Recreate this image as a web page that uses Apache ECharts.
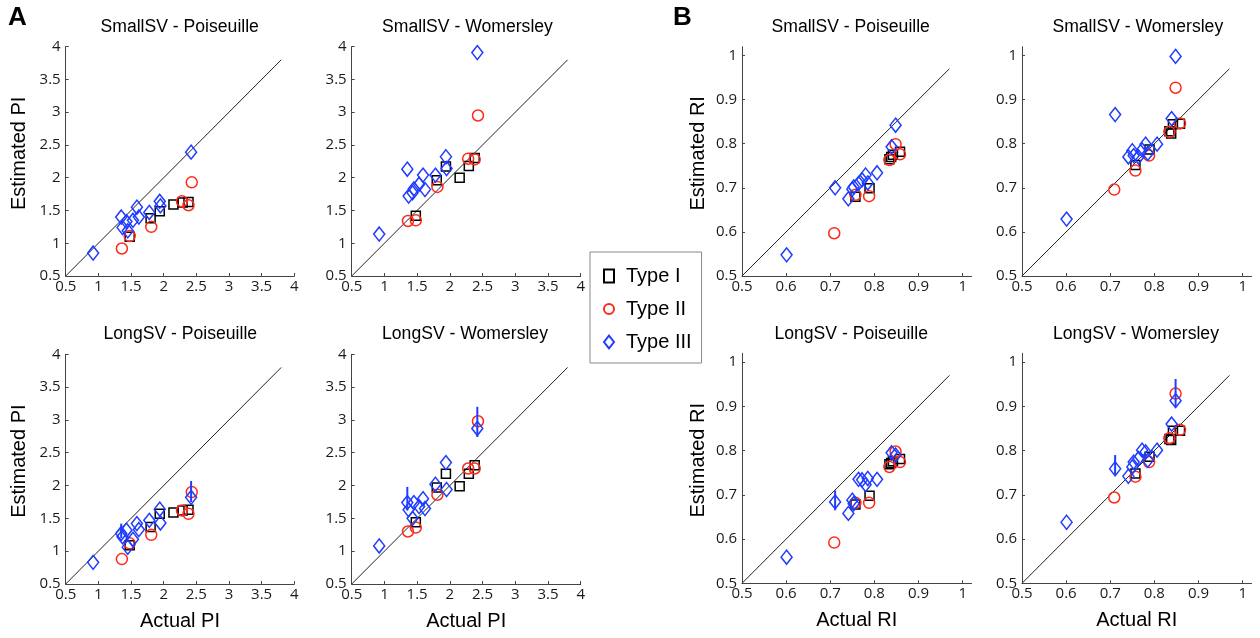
<!DOCTYPE html>
<html><head><meta charset="utf-8">
<script src="https://cdn.jsdelivr.net/npm/echarts@6/dist/echarts.min.js"></script>
<style>html,body{margin:0;padding:0;background:#fff}#c{width:1260px;height:638px}</style>
</head><body><div id="c"></div>
<script>
// ---------------- data ----------------
const TYPE_NAMES = ['Type I', 'Type II', 'Type III'];
const PANEL_TITLES = ['SmallSV - Poiseuille', 'SmallSV - Womersley', 'LongSV - Poiseuille', 'LongSV - Womersley'];
const PI_TICKS = [0.5, 1, 1.5, 2, 2.5, 3, 3.5, 4];
const RI_TICKS = [0.5, 0.6, 0.7, 0.8, 0.9, 1];
const PI_DIAG = [0.5, 3.8];
const RI_DIAG = [0.5, 0.97];

// Actual PI per type
const piActualI   = [1.48, 1.80, 1.94, 2.15, 2.29, 2.38];
const piActualII  = [1.36, 1.48, 1.81, 2.28, 2.38, 2.43];
const piActualIII = [0.92, 1.35, 1.37, 1.43, 1.45, 1.53, 1.59, 1.62, 1.78, 1.94, 1.95, 2.42];
// Actual RI per type
const riActualI   = [0.757, 0.789, 0.834, 0.838, 0.842, 0.858];
const riActualII  = [0.709, 0.757, 0.788, 0.834, 0.848, 0.858];
const riActualIII = [0.601, 0.711, 0.741, 0.750, 0.753, 0.764, 0.772, 0.780, 0.785, 0.806, 0.839, 0.848];

// Estimated PI
const piSmallPoisI   = [1.10, 1.38, 1.49, 1.59, 1.62, 1.63];
const piSmallPoisII  = [0.92, 1.11, 1.25, 1.64, 1.58, 1.93];
const piSmallPoisIII = [0.85, 1.40, 1.24, 1.33, 1.19, 1.35, 1.55, 1.40, 1.47, 1.64, 1.57, 2.39];
const piSmallWomI    = [1.42, 1.96, 2.17, 2.00, 2.18, 2.30];
const piSmallWomII   = [1.34, 1.35, 1.86, 2.29, 2.28, 2.95];
const piSmallWomIII  = [1.14, 2.13, 1.72, 1.77, 1.83, 1.90, 2.04, 1.82, 2.04, 2.32, 2.14, 3.91];
const piLongPoisI    = [1.09, 1.37, 1.57, 1.59, 1.62, 1.63];
const piLongPoisII   = [0.88, 1.12, 1.25, 1.62, 1.57, 1.90];
const piLongPoisIII  = [0.83, 1.27, 1.22, 1.32, 1.06, 1.18, 1.42, 1.33, 1.47, 1.64, 1.43, 1.82];
const piLongWomI     = [1.44, 1.97, 2.18, 1.99, 2.18, 2.31];
const piLongWomII    = [1.30, 1.36, 1.86, 2.26, 2.26, 2.98];
const piLongWomIII   = [1.08, 1.74, 1.63, 1.50, 1.74, 1.68, 1.80, 1.65, 2.02, 2.35, 1.94, 2.87];
// Estimated RI
const riSmallPoisI   = [0.680, 0.699, 0.765, 0.770, 0.775, 0.782];
const riSmallPoisII  = [0.597, 0.684, 0.681, 0.763, 0.799, 0.776];
const riSmallPoisIII = [0.548, 0.700, 0.675, 0.697, 0.702, 0.710, 0.718, 0.729, 0.711, 0.734, 0.793, 0.842];
const riSmallWomI    = [0.752, 0.787, 0.828, 0.823, 0.844, 0.845];
const riSmallWomII   = [0.696, 0.739, 0.773, 0.827, 0.927, 0.846];
const riSmallWomIII  = [0.629, 0.866, 0.770, 0.784, 0.773, 0.770, 0.786, 0.799, 0.778, 0.799, 0.857, 0.998];
const riLongPoisI    = [0.678, 0.698, 0.769, 0.772, 0.776, 0.781];
const riLongPoisII   = [0.592, 0.682, 0.682, 0.763, 0.798, 0.774];
const riLongPoisIII  = [0.559, 0.684, 0.658, 0.688, 0.680, 0.735, 0.734, 0.723, 0.737, 0.735, 0.795, 0.790];
const riLongWomI     = [0.748, 0.786, 0.826, 0.824, 0.845, 0.845];
const riLongWomII    = [0.694, 0.741, 0.774, 0.828, 0.929, 0.847];
const riLongWomIII   = [0.638, 0.759, 0.742, 0.763, 0.774, 0.782, 0.801, 0.797, 0.778, 0.801, 0.860, 0.913];
// Error bars on Type III points: [point index, low, high]
const piLongPoisErrIII = [[1, 1.20, 1.42], [11, 1.75, 2.07]];
const piLongWomErrIII  = [[1, 1.62, 1.98], [11, 2.74, 3.20]];
const riLongPoisErrIII = [[1, 0.665, 0.710]];
const riLongWomErrIII  = [[1, 0.745, 0.790], [11, 0.898, 0.962]];

// ---------------- layout ----------------
const GRIDS = [
  {left: 65.7, top: 46.7, width: 228.6, height: 229.3},
  {left: 351.7, top: 46.7, width: 229, height: 229.3},
  {left: 65.7, top: 354.3, width: 228.6, height: 229.7},
  {left: 351.7, top: 354.3, width: 229, height: 229.7},
  {left: 742, top: 46.7, width: 229.5, height: 229.3},
  {left: 1022, top: 46.7, width: 229.5, height: 229.3},
  {left: 742, top: 353.3, width: 229.5, height: 230},
  {left: 1022, top: 353.3, width: 229.5, height: 230}
];
const TITLE_POS = [[179.7, 26.7], [467.5, 26.7], [180.3, 334], [465, 334],
                   [850.7, 26.7], [1137.8, 26.7], [851.2, 334], [1136, 334]];

const PANELS = [
  {m: 'PI', t: 0, y: [piSmallPoisI, piSmallPoisII, piSmallPoisIII], err: []},
  {m: 'PI', t: 1, y: [piSmallWomI, piSmallWomII, piSmallWomIII], err: []},
  {m: 'PI', t: 2, y: [piLongPoisI, piLongPoisII, piLongPoisIII], err: piLongPoisErrIII},
  {m: 'PI', t: 3, y: [piLongWomI, piLongWomII, piLongWomIII], err: piLongWomErrIII},
  {m: 'RI', t: 0, y: [riSmallPoisI, riSmallPoisII, riSmallPoisIII], err: []},
  {m: 'RI', t: 1, y: [riSmallWomI, riSmallWomII, riSmallWomIII], err: []},
  {m: 'RI', t: 2, y: [riLongPoisI, riLongPoisII, riLongPoisIII], err: riLongPoisErrIII},
  {m: 'RI', t: 3, y: [riLongWomI, riLongWomII, riLongWomIII], err: riLongWomErrIII}
];

const FONT = 'Liberation Sans, Arial, sans-serif';
const TICKFONT = 'Open Sans, Liberation Sans, sans-serif';
const COLORS = ['#000000', '#ff2a1a', '#1f3cff'];
const SYMBOLS = ['rect', 'circle', 'path://M0,-7L5.5,0L0,7L-5.5,0Z'];
const SIZES = [[9, 9], [11, 11], [11, 14]];

const fmt = v => String(Math.round(v * 100) / 100);

const option = {
  animation: false,
  textStyle: {fontFamily: FONT},
  grid: GRIDS.map(g => Object.assign({containLabel: false, outerBoundsMode: 'none'}, g)),
  title: PANELS.map((p, i) => ({
    text: PANEL_TITLES[p.t], left: TITLE_POS[i][0], top: TITLE_POS[i][1],
    textAlign: 'center', textVerticalAlign: 'middle', padding: 0,
    textStyle: {fontFamily: FONT, fontSize: 17.6, fontWeight: 'normal', color: '#000'}
  })),
  legend: {
    left: 590, top: 252, orient: 'vertical',
    padding: [14, 10, 11, 13], itemGap: 13,
    itemWidth: 10, itemHeight: 13,
    borderColor: '#888', borderWidth: 1, backgroundColor: '#fff',
    textStyle: {fontFamily: FONT, fontSize: 20, color: '#000', padding: [0, 0, 0, 7]},
    data: TYPE_NAMES.map((n, k) => ({name: n, icon: SYMBOLS[k]})),
    selectedMode: false
  },
  xAxis: PANELS.map((p, i) => {
    const isPI = p.m === 'PI';
    const bottom = p.t >= 2;
    return {
      type: 'value', gridIndex: i, min: 0.5, max: isPI ? 4 : 1.02,
      interval: isPI ? 0.5 : 0.1,
      name: bottom ? (isPI ? 'Actual PI' : 'Actual RI') : '',
      nameLocation: 'middle', nameGap: 27,
      nameTextStyle: {fontFamily: FONT, fontSize: 20, color: '#000'},
      axisLine: {show: true, onZero: false, lineStyle: {color: '#444', width: 1}},
      axisTick: {show: true, inside: true, length: 3, lineStyle: {color: '#444'},
                 customValues: isPI ? PI_TICKS : RI_TICKS},
      axisLabel: {show: true, margin: 3, color: '#1a1a1a', fontSize: 15, fontFamily: TICKFONT,
                  customValues: isPI ? PI_TICKS : RI_TICKS, formatter: fmt},
      splitLine: {show: false}
    };
  }),
  yAxis: PANELS.map((p, i) => {
    const isPI = p.m === 'PI';
    const leftCol = (i % 2) === 0;
    return {
      type: 'value', gridIndex: i, min: 0.5, max: isPI ? 4 : 1.02,
      interval: isPI ? 0.5 : 0.1,
      name: leftCol ? (isPI ? 'Estimated PI' : 'Estimated RI') : '',
      nameLocation: 'middle', nameGap: isPI ? 36 : 34,
      nameTextStyle: {fontFamily: FONT, fontSize: 20, color: '#000', padding: [0, 0, 0, 16]},
      axisLine: {show: true, onZero: false, lineStyle: {color: '#444', width: 1}},
      axisTick: {show: true, inside: true, length: 3, lineStyle: {color: '#444'},
                 customValues: isPI ? PI_TICKS : RI_TICKS},
      axisLabel: {show: true, margin: 5, color: '#1a1a1a', fontSize: 15, fontFamily: TICKFONT,
                  customValues: isPI ? PI_TICKS : RI_TICKS, formatter: fmt},
      splitLine: {show: false}
    };
  }),
  graphic: [
    {type: 'text', left: 8, top: 5, style: {text: 'A', font: 'bold 26px ' + FONT, fill: '#000'}},
    {type: 'text', left: 673, top: 5, style: {text: 'B', font: 'bold 26px ' + FONT, fill: '#000'}}
  ],
  series: []
};

PANELS.forEach((p, i) => {
  const isPI = p.m === 'PI';
  const diag = isPI ? PI_DIAG : RI_DIAG;
  const xs = isPI ? [piActualI, piActualII, piActualIII] : [riActualI, riActualII, riActualIII];
  option.series.push({
    type: 'line', xAxisIndex: i, yAxisIndex: i, silent: true, symbol: 'none',
    data: [[diag[0], diag[0]], [diag[1], diag[1]]],
    lineStyle: {color: '#222', width: 1}, z: 1
  });
  for (let k = 0; k < 3; k++) {
    option.series.push({
      type: 'scatter', name: TYPE_NAMES[k], xAxisIndex: i, yAxisIndex: i,
      symbol: SYMBOLS[k], symbolSize: SIZES[k],
      itemStyle: {color: 'rgba(0,0,0,0)', borderColor: COLORS[k], borderWidth: 1.5, opacity: 1},
      emphasis: {disabled: true},
      data: xs[k].map((x, j) => [x, p.y[k][j]]), z: 2 + k
    });
  }
  if (p.err.length) {
    option.series.push({
      type: 'custom', name: 'err', xAxisIndex: i, yAxisIndex: i, silent: true, z: 6,
      data: p.err.map(e => [xs[2][e[0]], e[1], e[2]]),
      encode: {x: 0, y: [1, 2]},
      renderItem: (params, api) => {
        const a = api.coord([api.value(0), api.value(1)]);
        const b = api.coord([api.value(0), api.value(2)]);
        return {type: 'line', shape: {x1: a[0], y1: a[1], x2: b[0], y2: b[1]},
                style: {stroke: COLORS[2], lineWidth: 2}};
      }
    });
  }
});

const chart = echarts.init(document.getElementById('c'), null, {renderer: 'canvas'});
chart.setOption(option);
</script>
</body></html>
